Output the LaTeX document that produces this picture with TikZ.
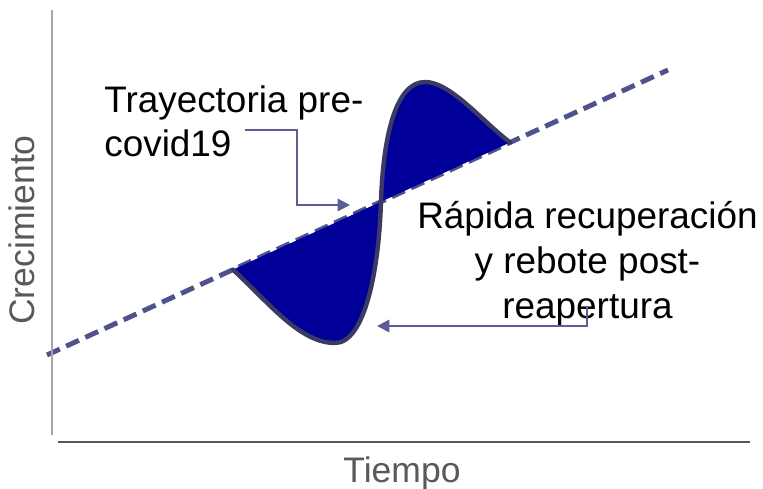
\documentclass[tikz,border=0pt]{standalone}
\usepackage{fontspec}
\setmainfont{Liberation Sans}
\usetikzlibrary{arrows.meta,calc}
\pgfdeclarelayer{bg}
\pgfsetlayers{bg,main}
\definecolor{trendblue}{RGB}{80,82,140}
\definecolor{lobefill}{RGB}{0,0,153}
\definecolor{swingedge}{RGB}{58,58,100}
\definecolor{pointerblue}{RGB}{92,92,150}
\definecolor{axisgray}{RGB}{89,89,89}
\definecolor{axislight}{RGB}{166,166,166}
\tikzset{
    every node/.style={inner sep=0pt, font=\fontsize{21}{25.5}\selectfont}
}
\tikzset{
    axislabel/.style={text=axisgray, font=\fontsize{20.2}{24}\selectfont},
    trend/.style={trendblue, line width=2.8pt, dash pattern=on 8pt off 4pt},
    lobe/.style={fill=lobefill},
    swing/.style={draw=swingedge, line width=2.5pt, line join=round, line cap=round},
    pointer/.style={pointerblue, line width=1.2pt, -{Triangle[length=7pt,width=7pt]}}
}

\begin{document}
\begin{tikzpicture}[x=0.02cm, y=0.02cm]
        \useasboundingbox (0,0) rectangle (763,489);
        % axes
        \coordinate (ytop) at (52,479);
        \coordinate (ybot) at (52,54);
        \coordinate (xl) at (58,47);
        \coordinate (xr) at (750,47);
        \draw [axislight, line width=1.1pt] (ybot) -- (ytop);
        \draw [axisgray, line width=1.1pt] (xl) -- (xr);
        % trend line and swing points
        \coordinate (l0) at (47,134);
        \coordinate (l1) at (668,419);
        \coordinate (s) at ($(l0)!0.2995!(l1)$);
        \coordinate (cr) at ($(l0)!0.5378!(l1)$);
        \coordinate (e) at ($(l0)!0.7456!(l1)$);
        \coordinate (m) at (335,146);
        \coordinate (pk) at (425,407);
        \begin{pgfonlayer}{bg}
                \draw [trend] (l0) -- (l1);
        \end{pgfonlayer}
        \fill [lobe] (s) .. controls (270,185) and (300,146) .. (m)
                .. controls (365,146) and (379,220) .. (cr)
                .. controls (383,350) and (395,407) .. (pk)
                .. controls (450,407) and (480,370) .. (e) -- cycle;
        \draw [swing] (s) .. controls (270,185) and (300,146) .. (m)
                .. controls (365,146) and (379,220) .. (cr)
                .. controls (383,350) and (395,407) .. (pk)
                .. controls (450,407) and (480,370) .. (e);
        % labels
        \node (t0) [anchor=north west, align=left] at (104,404) {Trayectoria pre-\\covid19};
        \node (t1) [anchor=north, align=center] at (587.5,288) {Rápida recuperación\\y rebote post-\\reapertura};
        \node (ylab) [axislabel, rotate=90] at (22,259) {Crecimiento};
        \node (xlab) [axislabel, anchor=base] at (402,6) {Tiempo};
        % pointers
        \coordinate (p0) at (245,359);
        \coordinate (p1) at (297,284);
        \coordinate (p2) at (350,284);
        \draw [pointer] (p0) -| (p1) -- (p2);
        \coordinate (q0) at (587,182);
        \coordinate (q1) at (377,163);
        \draw [pointer] (q0) |- (q1);
\end{tikzpicture}
\end{document}
